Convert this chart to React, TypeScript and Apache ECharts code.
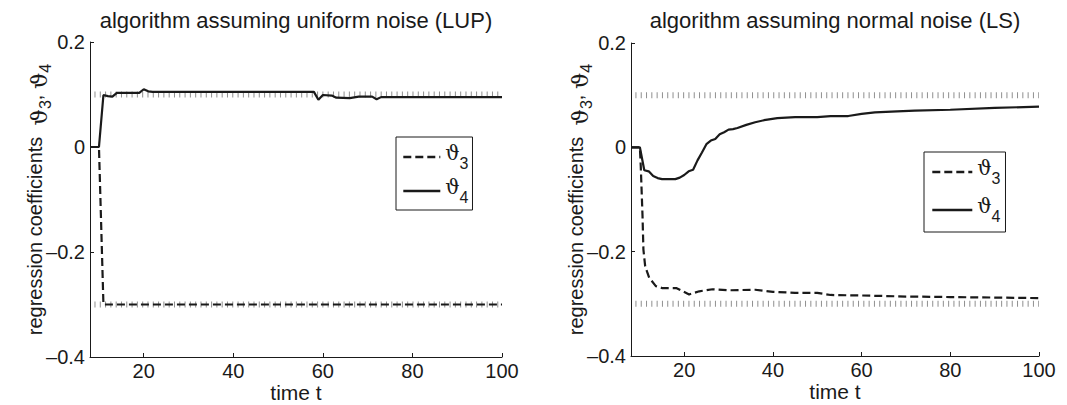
import React, { useEffect, useRef } from 'react';
import * as echarts from 'echarts';

// ---- data ----
const xTickValues = [20, 40, 60, 80, 100];
const titles = ['algorithm assuming uniform noise (LUP)', 'algorithm assuming normal noise (LS)'];
const seriesNames = ['ϑ3', 'ϑ4'];

// true parameter values (grey reference lines)
const trueT = [9, 100];
const trueTheta3 = [-0.3, -0.3];
const trueTheta4 = [0.1, 0.1];

// LUP estimates (left)
const lupT3 = [8, 10, 11, 100];
const lupV3 = [0, 0, -0.3, -0.3];
const lupT4 = [8, 10, 11, 12, 13, 14, 19, 20, 21, 22, 58, 59, 60, 62, 63, 66, 68, 71, 72, 73, 100];
const lupV4 = [0, 0, 0.099, 0.097, 0.096, 0.103, 0.103, 0.11, 0.106, 0.105, 0.105, 0.09, 0.099, 0.098, 0.094, 0.093, 0.096, 0.096, 0.091, 0.095, 0.095];

// LS estimates (right)
const lsT3 = [8, 10, 10.2, 10.6, 10.8, 11.2, 12.1, 13.6, 15.1, 18.3, 21.1, 23.4, 26.4, 30, 36, 40, 45, 50, 53, 60, 70, 80, 90, 100];
const lsV3 = [0, 0, -0.036, -0.132, -0.196, -0.228, -0.25, -0.266, -0.27, -0.27, -0.282, -0.276, -0.272, -0.274, -0.273, -0.277, -0.279, -0.279, -0.283, -0.284, -0.286, -0.287, -0.288, -0.289];
const lsT4 = [8, 10, 11, 12, 13, 14, 15, 18, 19, 20, 21, 22, 23, 24, 25, 26, 27, 28, 29, 30, 31, 32, 34, 36, 38, 41, 45, 50, 53, 57, 60, 63, 68, 72, 80, 90, 100];
const lsV4 = [0, 0, -0.044, -0.046, -0.055, -0.059, -0.061, -0.061, -0.058, -0.053, -0.046, -0.043, -0.025, -0.01, 0.006, 0.013, 0.016, 0.025, 0.029, 0.034, 0.035, 0.037, 0.043, 0.048, 0.052, 0.056, 0.058, 0.058, 0.06, 0.06, 0.064, 0.067, 0.069, 0.0705, 0.072, 0.0756, 0.078];

const zip = (t: number[], v: number[]) => t.map((x, i) => [x, v[i]]);

const FONT = 'Liberation Sans, Arial, Helvetica, sans-serif';
const THETA_FONT = 'DejaVu Serif, DejaVu Sans, serif';
const INK = '#1a1a1a';
const GREY = '#8f8f8f';

const grids = [
  { left: 90, top: 42, width: 412, height: 315, outerBoundsMode: 'none', containLabel: false },
  { left: 631, top: 43, width: 408, height: 313, outerBoundsMode: 'none', containLabel: false },
];

function buildOption() {
  const xAxis = grids.map((_, i) => ({
    type: 'value',
    gridIndex: i,
    min: 8,
    max: 100,
    name: 'time t',
    nameLocation: 'middle',
    nameGap: 25,
    nameMoveOverlap: false,
    nameTextStyle: { fontSize: 21, lineHeight: 21, color: INK, fontFamily: FONT },
    axisLine: { show: true, onZero: false, lineStyle: { color: INK, width: 1 } },
    axisTick: { show: true, inside: true, length: 4, customValues: xTickValues, lineStyle: { color: INK } },
    axisLabel: { fontSize: 20, color: INK, fontFamily: FONT, margin: 4, customValues: xTickValues },
    splitLine: { show: false },
  }));
  const yAxis = grids.map((_, i) => ({
    type: 'value',
    gridIndex: i,
    min: -0.4,
    max: 0.2,
    interval: 0.2,
    name: '{a|regression coefficients  }{t|ϑ}{s|3}{a|, }{t|ϑ}{s|4}',
    nameLocation: 'middle',
    nameGap: 42,
    nameMoveOverlap: false,
    nameRotate: 90,
    nameTextStyle: {
      color: INK,
      rich: {
        a: { fontSize: 20, fontFamily: FONT, color: INK, lineHeight: 26 },
        t: { fontSize: 23, fontFamily: THETA_FONT, color: INK, lineHeight: 26, padding: [8, 0, 0, 0] },
        s: { fontSize: 16, fontFamily: FONT, color: INK, lineHeight: 26, padding: [20, 0, 0, 0] },
      },
    },
    axisLine: { show: true, onZero: false, lineStyle: { color: INK, width: 1 } },
    axisTick: { show: true, inside: true, length: 4, lineStyle: { color: INK } },
    axisLabel: {
      fontSize: 20,
      color: INK,
      fontFamily: FONT,
      margin: 5,
      formatter: (v: number) => {
        const r = Math.round(v * 10) / 10;
        if (r === 0) return '0';
        return r < 0 ? '\u2013' + String(Math.abs(r)) : String(r);
      },
    },
    splitLine: { show: false },
  }));

  const estimates = [
    [zip(lupT3, lupV3), zip(lupT4, lupV4)],
    [zip(lsT3, lsV3), zip(lsT4, lsV4)],
  ];

  const series: any[] = [];
  grids.forEach((_, i) => {
    [trueTheta3, trueTheta4].forEach((tv, k) => {
      series.push({
        type: 'line',
        name: 'true' + k,
        xAxisIndex: i,
        yAxisIndex: i,
        data: zip(trueT, tv),
        showSymbol: false,
        symbol: 'none',
        z: 1,
        lineStyle: { color: GREY, width: 6, type: [1, 4.3] },
      });
    });
    series.push({
      type: 'line',
      name: seriesNames[0],
      xAxisIndex: i,
      yAxisIndex: i,
      data: estimates[i][0],
      symbol: 'none',
      z: 3,
      lineStyle: { color: INK, width: 2.2, type: [8, 4] },
      itemStyle: { color: INK },
    });
    series.push({
      type: 'line',
      name: seriesNames[1],
      xAxisIndex: i,
      yAxisIndex: i,
      data: estimates[i][1],
      symbol: 'none',
      z: 3,
      lineStyle: { color: INK, width: 2.2 },
      itemStyle: { color: INK },
    });
  });

  const legendRich = {
    t: { fontSize: 20, fontFamily: THETA_FONT, color: INK, lineHeight: 22, padding: [0, 0, 8, 0] },
    s: { fontSize: 16, fontFamily: FONT, color: INK, lineHeight: 22, padding: [12, 0, 0, 0] },
  };
  const legendBase = {
    orient: 'vertical',
    data: seriesNames,
    itemWidth: 37,
    itemHeight: 12,
    borderColor: INK,
    borderWidth: 1,
    borderRadius: 0,
    backgroundColor: '#fff',
    selectedMode: false,
    itemStyle: { opacity: 0, color: 'transparent', borderWidth: 0 },
    lineStyle: { width: 2.6 },
    formatter: (n: string) => '{t|ϑ}{s|' + n.slice(1) + '}',
    textStyle: { rich: legendRich },
  };
  const legend = [
    { ...legendBase, left: 396, top: 137, padding: [6, 4, 5, 6], itemGap: 6 },
    { ...legendBase, left: 924, top: 152, padding: [6, 5, 8, 7], itemGap: 10, itemWidth: 40 },
  ];

  const graphic = [
    {
      type: 'text',
      x: 296,
      y: 20,
      style: { text: titles[0], fontSize: 22, fontFamily: FONT, fill: INK, align: 'center', verticalAlign: 'middle', textAlign: 'center', textVerticalAlign: 'middle' },
    },
    {
      type: 'text',
      x: 835,
      y: 20,
      style: { text: titles[1], fontSize: 22, fontFamily: FONT, fill: INK, align: 'center', verticalAlign: 'middle', textAlign: 'center', textVerticalAlign: 'middle' },
    },
  ];

  return {
    animation: false,
    backgroundColor: '#fff',
    grid: grids,
    xAxis,
    yAxis,
    series,
    legend,
    graphic,
  };
}

export default function App() {
  const ref = useRef<HTMLDivElement>(null);
  useEffect(() => {
    if (!ref.current) return;
    const chart = echarts.init(ref.current, undefined, { renderer: 'svg' });
    chart.setOption(buildOption() as any);
    return () => chart.dispose();
  }, []);
  return (
    <div
      ref={ref}
      style={{ position: 'fixed', left: 0, top: 0, width: 1067, height: 405, background: '#fff' }}
    />
  );
}
